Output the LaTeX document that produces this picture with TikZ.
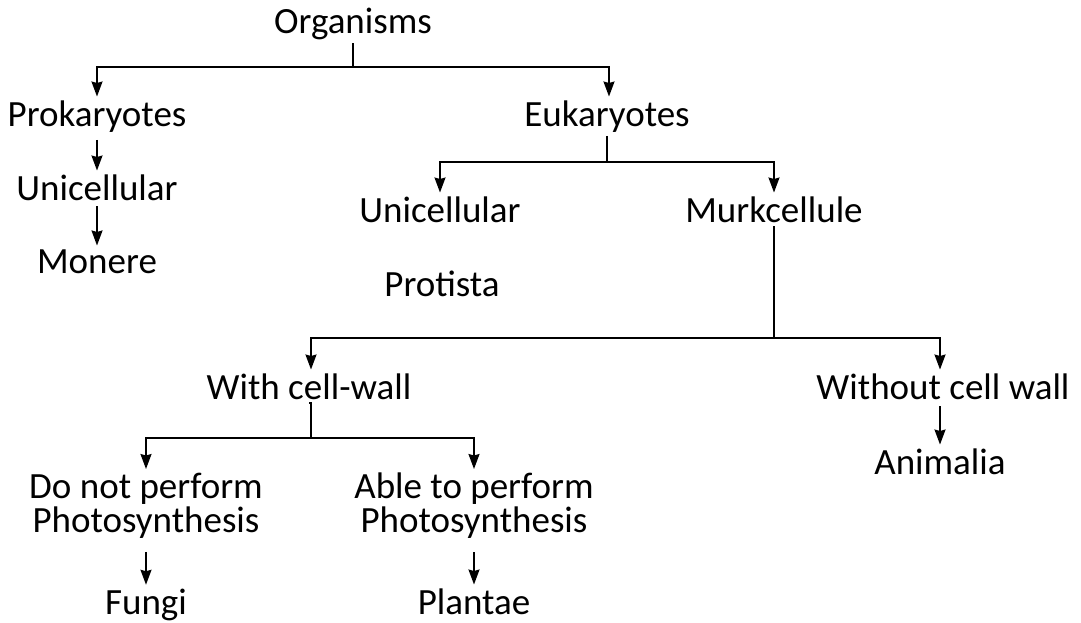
\documentclass[tikz,border=0pt]{standalone}
\usepackage{fontspec}
\setmainfont{Carlito}
\usetikzlibrary{arrows.meta}
\tikzset{
  lbl/.style={inner sep=3pt, font=\fontsize{37}{34}\selectfont},
  arr/.style={-{Stealth[length=15pt,width=11pt,inset=1.5pt]}},
}
\begin{document}
\begin{tikzpicture}[x=1pt,y=-1pt,line width=1.6pt]
            \useasboundingbox (0,0) rectangle (1081,622);
            % level labels
            \node[lbl,anchor=base] (org) at (353,33) {Organisms};
            \node[lbl,anchor=base] (prok) at (97,126) {Prokaryotes};
            \node[lbl,anchor=base] (euk) at (607,126) {Eukaryotes};
            \node[lbl,anchor=base] (uniA) at (97,200) {Unicellular};
            \node[lbl,anchor=base] (mon) at (97,273) {Monere};
            \node[lbl,anchor=base] (uniB) at (440,222) {Unicellular};
            \node[lbl,anchor=base] (murk) at (774,222) {Murkcellule};
            \node[lbl,anchor=base] (prot) at (442,296) {Protista};
            \node[lbl,anchor=base] (wall) at (309,399) {With cell-wall};
            \node[lbl,anchor=base] (nowall) at (943,399) {Without cell wall};
            \node[lbl,anchor=base] (anim) at (940,474) {Animalia};
            \node[lbl,anchor=north,align=center] (nophoto) at (146,469) {Do not perform\\Photosynthesis};
            \node[lbl,anchor=north,align=center] (photo) at (474,469) {Able to perform\\Photosynthesis};
            \node[lbl,anchor=base] (fungi) at (146,614) {Fungi};
            \node[lbl,anchor=base] (plant) at (474,614) {Plantae};
            % junctions
            \coordinate (jA) at (353,67);
            \coordinate (jB) at (607,162);
            \coordinate (jC) at (774,338);
            \coordinate (jD) at (311,438);
            % connectors
            \draw (org.south) -- (jA);
            \draw[arr] (jA) -| (prok.north);
            \draw[arr] (jA) -| ([xshift=2pt]euk.north);
            \draw[arr,shorten <=4pt] (prok) -- (uniA);
            \draw[arr,shorten <=2pt] (uniA) -- (mon);
            \draw (euk.south) -- (jB);
            \draw[arr] (jB) -| (uniB.north);
            \draw[arr] (jB) -| (murk.north);
            \draw (murk.south) -- (jC);
            \draw[arr] (jC) -| ([xshift=2pt]wall.north);
            \draw[arr] (jC) -| ([xshift=-3pt]nowall.north);
            \draw (jD -| wall.south) ++(2pt,0) |- (wall.south) ;
            \draw[arr] (jD) -| (nophoto.north);
            \draw[arr] (jD) -| (photo.north);
            \draw[arr,shorten <=10pt] (nophoto) -- (fungi);
            \draw[arr,shorten <=10pt] (photo) -- (plant);
            \draw[arr,shorten <=3pt] ([xshift=-3pt]nowall.south) -- (anim);
\end{tikzpicture}
\end{document}
